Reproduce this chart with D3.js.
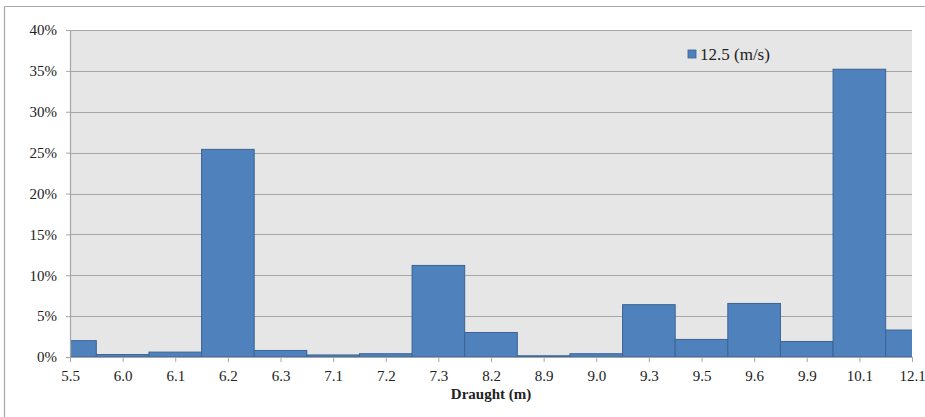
<!DOCTYPE html>
<html>
<head>
<meta charset="utf-8">
<script src="https://cdn.jsdelivr.net/npm/d3@7"></script>
<style>
  body { margin: 0; background: #fff; }
  svg, svg text { font-family: "Liberation Serif", "Times New Roman", "DejaVu Serif", serif; }
</style>
</head>
<body>
<div id="chart"></div>
<script>
// draught categories (m) and share of voyages at 12.5 m/s
var draughts = ["5.5", "6.0", "6.1", "6.2", "6.3", "7.1", "7.2", "7.3", "8.2",
                "8.9", "9.0", "9.3", "9.5", "9.6", "9.9", "10.1", "12.1"];
var shares = [2.0, 0.3, 0.6, 25.4, 0.8, 0.25, 0.4, 11.2, 3.0,
              0.15, 0.4, 6.4, 2.15, 6.55, 1.9, 35.2, 3.3];
var yTicks = [0, 5, 10, 15, 20, 25, 30, 35, 40];
var seriesName = "12.5 (m/s)";

var W = 925, H = 417;
var margin = {top: 30, right: 13, bottom: 60, left: 70},
    width = W - margin.left - margin.right,
    height = H - margin.top - margin.bottom;

var svg = d3.select("#chart").append("svg")
    .attr("width", W)
    .attr("height", H);

// outer frame (only top and left edges show)
svg.append("line").attr("x1", 4.5).attr("x2", W).attr("y1", 6.5).attr("y2", 6.5)
    .attr("stroke", "#a8a8a8").attr("stroke-width", 1.2);
svg.append("line").attr("x1", 4.5).attr("x2", 4.5).attr("y1", 6.5).attr("y2", H)
    .attr("stroke", "#a8a8a8").attr("stroke-width", 1.2);

var g = svg.append("g")
    .attr("transform", "translate(" + margin.left + "," + margin.top + ")");

// categories sit on the tick marks, bars centred on them
var x = d3.scalePoint().domain(draughts).range([0, width]);
var step = x.step();
var y = d3.scaleLinear().domain([0, 40]).range([height, 0]);

g.append("rect")
    .attr("width", width).attr("height", height)
    .attr("fill", "#e6e6e6");

g.append("clipPath").attr("id", "plotclip")
  .append("rect").attr("width", width).attr("height", height);

// gridlines
g.append("g").selectAll("line")
    .data(yTicks.slice(1))
    .enter().append("line")
    .attr("x1", 0).attr("x2", width)
    .attr("y1", function (d) { return Math.round(y(d)) + 0.5; })
    .attr("y2", function (d) { return Math.round(y(d)) + 0.5; })
    .attr("stroke", "#a6a6a6").attr("stroke-width", 1.2);

// bars
g.append("g")
    .attr("clip-path", "url(#plotclip)")
    .selectAll("rect")
    .data(draughts)
    .enter().append("rect")
    .attr("x", function (d) { return x(d) - step / 2; })
    .attr("width", step)
    .attr("y", function (d, i) { return y(shares[i]); })
    .attr("height", function (d, i) { return height - y(shares[i]); })
    .attr("fill", "#4f81bd")
    .attr("stroke", "#3a6494")
    .attr("stroke-width", 1);

// y axis
var yAxis = g.append("g")
    .call(d3.axisLeft(y).tickValues(yTicks).tickSize(4).tickPadding(9)
        .tickFormat(function (d) { return d + "%"; }))
    .attr("font-family", null);
yAxis.select(".domain").attr("stroke", "#a6a6a6").attr("stroke-width", 1.2)
    .attr("d", "M0.5," + height + "V0");
yAxis.selectAll(".tick line").attr("stroke", "#a6a6a6");
yAxis.selectAll("text").style("font-size", "15px").attr("fill", "#222");

// x axis
var xAxis = g.append("g")
    .attr("transform", "translate(0," + height + ")")
    .call(d3.axisBottom(x).tickSize(5).tickPadding(8))
    .attr("font-family", null);
xAxis.select(".domain").attr("stroke", "#a6a6a6").attr("stroke-width", 1.2)
    .attr("d", "M0," + 0.5 + "H" + width);
xAxis.selectAll(".tick line").attr("stroke", "#a6a6a6");
xAxis.selectAll("text").style("font-size", "15px").attr("fill", "#222");

g.append("text")
    .attr("x", x("8.2"))
    .attr("y", height + 42)
    .attr("text-anchor", "middle")
    .style("font-size", "15px")
    .style("font-weight", "bold")
    .attr("fill", "#222")
    .text("Draught (m)");

// legend
var legend = svg.append("g").attr("transform", "translate(688,50)");
legend.append("rect").attr("width", 8).attr("height", 8)
    .attr("fill", "#4f81bd").attr("stroke", "#3a6494").attr("stroke-width", 0.8);
legend.append("text").attr("x", 12).attr("y", 10)
    .style("font-size", "17px").attr("fill", "#222")
    .text(seriesName);
</script>
</body>
</html>
